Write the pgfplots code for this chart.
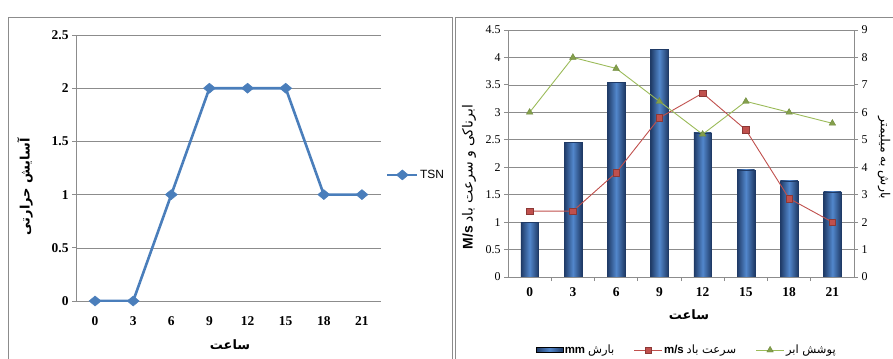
\documentclass[border=0pt]{standalone}
\usepackage{pgfplots}
\pgfplotsset{compat=1.18}
\usepackage{fontspec}
\setmainfont{Liberation Serif}
\newfontfamily\arabicfont[Script=Arabic]{DejaVu Sans}
\newfontfamily\arialfont{Liberation Sans}
\TeXXeTstate=1

\definecolor{tsnblue}{HTML}{4A7EBB}
\definecolor{barblue}{HTML}{5287CC}
\definecolor{bardark}{HTML}{1F3A66}
\definecolor{windred}{HTML}{C0504D}
\definecolor{windedge}{HTML}{8C3836}
\definecolor{cloudgreen}{HTML}{9BBB59}
\definecolor{cloudedge}{HTML}{6F8A3C}
\definecolor{framegray}{HTML}{8C8C8C}

\pgfplotsset{
  chartbase/.style={
    scale only axis,
    xmin=-0.5, xmax=7.5,
    /pgf/number format/assume math mode=true,
    axis line style={framegray, line width=0.8bp},
    tick style={framegray, line width=0.8bp},
    tick align=outside,
    major tick length=4bp,
    grid style={framegray, line width=0.6bp},
  },
  % legend sample: a short line with one marker in its middle
  linelegend/.style={legend image code/.code={%
    \draw[mark repeat=2, mark phase=2, ##1] plot coordinates {(0bp,0bp) (14bp,0bp) (28bp,0bp)};}},
  linelegendlong/.style={legend image code/.code={%
    \draw[mark repeat=2, mark phase=2, ##1] plot coordinates {(0bp,0bp) (15bp,0bp) (30bp,0bp)};}},
  barlegend/.style={legend image code/.code={%
    \fill[left color=bardark, right color=bardark, middle color=barblue] (0bp,-2.5bp) rectangle (27bp,2.5bp);}},
  % one shaded column per hour, so that each column gets its own gradient
  cylbar/.style={ybar, bar width=17.7bp, bar shift=0pt, draw=bardark, line width=0.4bp,
    left color=bardark, right color=bardark, middle color=barblue},
}

\begin{document}
\begin{tikzpicture}[x=1bp,y=1bp]
\useasboundingbox (0,0) rectangle (893,358);
% panel frames
\draw[framegray, line width=0.8bp] (8,-5) -- (8,341) -- (452,341) -- (452,-5);
\draw[framegray, line width=0.8bp] (455,-5) -- (455,341) -- (900,341);

% ---- thermal comfort (TSN) ----
\begin{axis}[chartbase,
  at={(76bp,57bp)}, anchor=south west,
  width=305bp, height=266bp,
  ymin=0, ymax=2.5, ytick={0,0.5,...,2.5},
  xtick={0,...,7}, xticklabels={0,3,6,9,12,15,18,21},
  axis x line*=bottom, axis y line*=left,
  xtick style={draw=none},
  ymajorgrids,
  ticklabel style={font=\bfseries\fontsize{13.5}{15}\selectfont},
  xticklabel style={yshift=-8bp},
  xlabel={\arabicfont\bfseries\beginR ساعت\endR},
  xlabel style={at={(axis description cs:0.505,-0.165)}, anchor=center, font=\fontsize{13}{15}\selectfont},
  ylabel={\arabicfont\bfseries\beginR آسایش حرارتی\endR},
  ylabel style={at={(axis description cs:-0.167,0.43)}, anchor=center, font=\fontsize{13}{15}\selectfont},
  legend style={at={(axis description cs:1.016,0.474)}, anchor=west, draw=none, fill=none,
    inner sep=0pt, nodes={inner sep=1.5bp}, font=\arialfont\fontsize{12}{14}\selectfont},
]
\addplot[tsnblue, line width=2.6bp, mark=diamond*, mark size=5bp,
  mark options={xscale=1.6, fill=tsnblue, draw=tsnblue, line width=0.5bp},
  linelegendlong]
  coordinates {(0,0) (1,0) (2,1) (3,2) (4,2) (5,2) (6,1) (7,1)};
\addlegendentry{TSN}
\end{axis}

% ---- precipitation columns, right axis in mm ----
\begin{axis}[chartbase,
  at={(508bp,81bp)}, anchor=south west,
  width=346bp, height=247bp,
  ymin=0, ymax=9, ytick={0,...,9},
  xtick={0.5,1.5,...,6.5}, xticklabels={},
  axis x line*=bottom, axis y line*=right,
  ymajorgrids,
  yticklabel style={font=\fontsize{12}{14}\selectfont},
  ylabel={\arabicfont\beginR بارش به میلیمتر\endR},
  ylabel style={at={(axis description cs:1.087,0.482)}, anchor=center, rotate=180, font=\fontsize{12.5}{14}\selectfont},
]
\addplot[cylbar] coordinates {(0,2.0)};
\addplot[cylbar] coordinates {(1,4.9)};
\addplot[cylbar] coordinates {(2,7.1)};
\addplot[cylbar] coordinates {(3,8.3)};
\addplot[cylbar] coordinates {(4,5.25)};
\addplot[cylbar] coordinates {(5,3.9)};
\addplot[cylbar] coordinates {(6,3.5)};
\addplot[cylbar] coordinates {(7,3.1)};
\end{axis}

% ---- wind speed and cloud cover, left axis ----
\begin{axis}[chartbase,
  at={(508bp,81bp)}, anchor=south west,
  width=346bp, height=247bp,
  ymin=0, ymax=4.5, ytick={0,0.5,...,4.5},
  xtick={0,...,7}, xticklabels={0,3,6,9,12,15,18,21},
  axis x line*=bottom, axis y line*=left,
  xtick style={draw=none},
  xticklabel style={font=\bfseries\fontsize{13.5}{15}\selectfont, yshift=-3bp},
  yticklabel style={font=\fontsize{12}{14}\selectfont},
  xlabel={\arabicfont\bfseries\beginR ساعت\endR},
  xlabel style={at={(axis description cs:0.523,-0.154)}, anchor=center, font=\fontsize{13}{15}\selectfont},
  ylabel={{\arialfont\bfseries M/s} {\arabicfont\beginR ابرناکی و سرعت باد\endR}},
  ylabel style={at={(axis description cs:-0.113,0.405)}, anchor=center, font=\fontsize{14}{16}\selectfont},
  legend columns=3,
  legend style={at={(axis description cs:0.516,-0.296)}, anchor=center, draw=none, fill=none,
    inner sep=0pt, nodes={inner sep=1.5bp}, font=\fontsize{11.5}{13}\selectfont,
    /tikz/every even column/.append style={column sep=18bp}},
]
\addlegendimage{barlegend}
\addlegendentry{{\arialfont\bfseries mm} {\arabicfont\beginR بارش\endR}}
\addplot[windred, line width=0.9bp, mark=square*, mark size=3.3bp,
  mark options={fill=windred, draw=windedge, line width=0.5bp},
  linelegend]
  coordinates {(0,1.2) (1,1.2) (2,1.9) (3,2.9) (4,3.35) (5,2.68) (6,1.43) (7,1.0)};
\addlegendentry{{\arialfont\bfseries m/s} {\arabicfont\beginR سرعت باد\endR}}
\addplot[cloudgreen, line width=0.9bp, mark=triangle*, mark size=3.8bp,
  mark options={fill=cloudgreen!85!black, draw=cloudedge, line width=0.4bp},
  linelegend]
  coordinates {(0,3.0) (1,4.0) (2,3.8) (3,3.2) (4,2.6) (5,3.2) (6,3.0) (7,2.8)};
\addlegendentry{{\arabicfont\beginR پوشش ابر\endR}}
\end{axis}
\end{tikzpicture}
\end{document}
